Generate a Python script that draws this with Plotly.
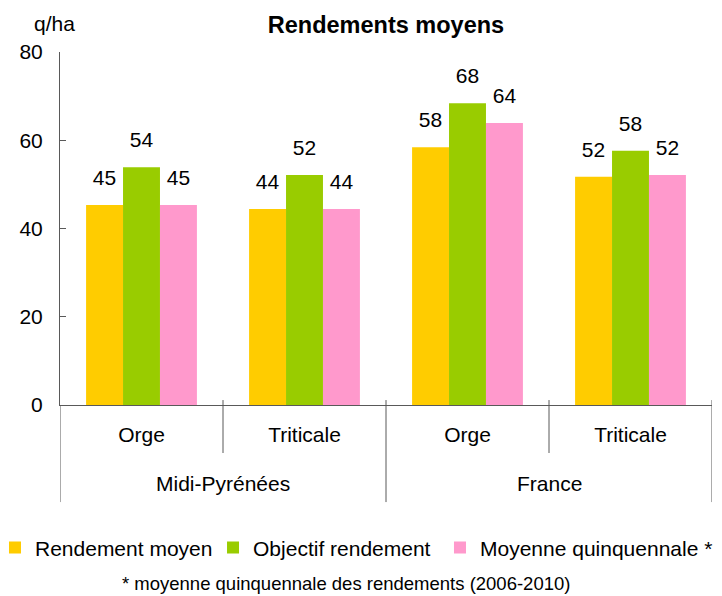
import plotly.graph_objects as go

# Data (q/ha)
zones = ["Midi-Pyrénées", "Midi-Pyrénées", "France", "France"]
cultures = ["Orge", "Triticale", "Orge", "Triticale"]
rendement_moyen = [45.3, 44.4, 58.4, 51.7]
objectif_rendement = [53.9, 52.1, 68.4, 57.6]
moyenne_quinquennale = [45.3, 44.4, 63.9, 52.1]

series = [
    ("Rendement moyen", rendement_moyen, "#FFCC00"),
    ("Objectif rendement", objectif_rendement, "#99CC00"),
    ("Moyenne quinquennale *", moyenne_quinquennale, "#FF99CC"),
]

font_family = "Liberation Sans, Arial, sans-serif"
axis_color = "#595959"
gap = 0.32
pos = list(range(len(cultures)))
legend_ids = ["legend", "legend2", "legend3"]
legend_x = [-0.0997, 0.2347, 0.5828]

fig = go.Figure()
for (name, values, color), lg in zip(series, legend_ids):
    fig.add_trace(go.Bar(
        x=pos, y=values, name=name, legend=lg,
        marker=dict(color=color, line=dict(width=0)),
        hoverinfo="skip",
    ))
# value labels: invisible markers push the text a bit above the bar top
for name, values, color in series:
    fig.add_trace(go.Scatter(
        x=pos, y=values, mode="markers+text",
        text=[f"{v:.0f}" for v in values],
        textposition="top center",
        textfont=dict(size=21, color="black"),
        marker=dict(size=22, opacity=0),
        showlegend=False, hoverinfo="skip", cliponaxis=False,
    ))

# separators below the axis: short ones between crops, long ones between zones
shapes = []
for i in range(len(cultures) + 1):
    edge = i == 0 or i == len(cultures) or zones[i] != zones[i - 1]
    shapes.append(dict(type="line", xref="x", yref="paper",
                       x0=i - 0.5, x1=i - 0.5,
                       y0=0 if i == 0 else 0.014, y1=-0.275 if edge else -0.136,
                       line=dict(color=axis_color, width=1)))

annotations = []
for z in dict.fromkeys(zones):
    idx = [i for i, zz in enumerate(zones) if zz == z]
    annotations.append(dict(text=z, xref="x", yref="paper",
                            x=sum(idx) / len(idx), y=-0.221,
                            xanchor="center", yanchor="middle",
                            showarrow=False, font=dict(size=21)))
annotations += [
    dict(text="q/ha", xref="paper", yref="paper", x=-0.009, y=1.082,
         xanchor="center", yanchor="middle", showarrow=False, font=dict(size=21)),
    dict(text="* moyenne quinquennale des rendements (2006-2010)",
         xref="paper", yref="paper", x=0.439, y=-0.507,
         xanchor="center", yanchor="middle",
         showarrow=False, font=dict(size=18.5)),
]

# the page body adds an 8px offset, so margins are shifted up/left by 8px
fig.update_layout(
    width=722, height=596,
    margin=dict(l=52, r=18, t=44, b=199, autoexpand=False),
    paper_bgcolor="white", plot_bgcolor="white",
    font=dict(family=font_family, size=21, color="black"),
    barmode="group", bargap=gap, bargroupgap=0,
    scattermode="group", scattergap=gap,
    title=dict(text="<b>Rendements moyens</b>", x=0.5, xref="paper",
               xanchor="center", y=0.972, yanchor="middle", font=dict(size=23.5)),
    showlegend=True,
    shapes=shapes,
    annotations=annotations,
)
# one legend box per series so each entry sits where the original puts it
for lg, lx in zip(legend_ids, legend_x):
    fig.update_layout({lg: dict(orientation="h", x=lx, xanchor="left",
                                y=-0.405, yanchor="middle", font=dict(size=21),
                                itemwidth=30, bgcolor="rgba(0,0,0,0)")})

fig.update_yaxes(
    range=[0, 80], dtick=20, showgrid=False, zeroline=False, automargin=False,
    showline=True, linecolor=axis_color, linewidth=1,
    ticks="inside", ticklen=6, tickcolor=axis_color,
    ticklabelstandoff=12, tickfont=dict(size=21),
)
fig.update_xaxes(
    range=[-0.5, len(cultures) - 0.5], tickvals=pos, ticktext=cultures,
    showgrid=False, zeroline=False, automargin=False,
    showline=True, linecolor=axis_color, linewidth=1,
    ticks="", ticklabelstandoff=11, tickfont=dict(size=21),
)

fig.write_html("out.html")
